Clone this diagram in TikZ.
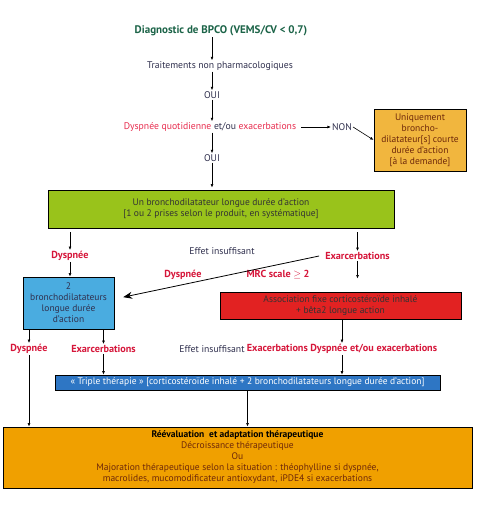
\documentclass[tikz,border=0pt]{standalone}
\usepackage{fontspec}
\setmainfont{PT Sans}
\usetikzlibrary{arrows.meta}

\definecolor{titlegreen}{RGB}{28,100,72}
\definecolor{pinkred}{RGB}{232,44,78}
\definecolor{lblred}{RGB}{214,22,58}
\definecolor{txtgrey}{RGB}{48,48,78}
\definecolor{orangebox}{RGB}{241,182,62}
\definecolor{orangetxt}{RGB}{110,40,10}
\definecolor{greenbox}{RGB}{153,195,27}
\definecolor{bluebox}{RGB}{74,172,224}
\definecolor{redbox}{RGB}{226,34,34}
\definecolor{triplebox}{RGB}{46,118,196}
\definecolor{bottombox}{RGB}{240,160,0}

\tikzset{
  lbl/.style={font=\fontsize{9.7}{11}\selectfont, text=txtgrey, inner sep=1pt},
  redlbl/.style={lbl, text=lblred, font=\fontsize{10.2}{11}\selectfont\bfseries},
  flowbox/.style={draw=black, line width=0.8pt, align=center, inner sep=0pt,
    font=\fontsize{9.5}{11}\selectfont},
  arr/.style={-{Latex[length=3.5pt,width=2.8pt]}, line width=0.6pt},
  bigarr/.style={-{Stealth[length=9pt,width=7pt]}, line width=0.8pt},
}

\begin{document}
\begin{tikzpicture}[x=1pt,y=-1pt]
	%%%%% START %%%%%
	\useasboundingbox[fill=white] (0,0) rectangle (477,509);

	% top of the chart
	\node[lbl, text=titlegreen, font=\fontsize{11}{12}\selectfont\bfseries] (diag) at (221,31) {Diagnostic de BPCO (VEMS/CV < 0,7)};
	\node[lbl] (trait) at (220,66) {Traitements non pharmacologiques};
	\node[lbl] (oui1) at (212,95) {OUI};
	\node[lbl] (dysq) at (210,127) {\textcolor{pinkred}{Dyspnée quotidienne} et/ou \textcolor{pinkred}{exacerbations}};
	\node[lbl] (non) at (342,127) {NON};
	\node[lbl] (oui2) at (212,158) {OUI};

	\node[flowbox, fill=orangebox, text=orangetxt, minimum width=92pt, minimum height=62pt] (uniq) at (420,140)
		{Uniquement\\broncho-\\dilatateur[s] courte\\durée d'action\\{[}à la demande]};

	% first line of treatment
	\node[flowbox, fill=greenbox, text=black!80, minimum width=346pt, minimum height=38pt] (bd1) at (221,209)
		{Un bronchodilatateur longue durée d'action\\{[}1 ou 2 prises selon le produit, en systématique]};

	\node[redlbl] (dys1) at (70,256) {Dyspnée};
	\node[lbl] (eff1) at (222,251.5) {Effet insuffisant};
	\node[redlbl] (exa1) at (357.5,256) {Exarcerbations};
	\node[redlbl] (dys2) at (183,275) {Dyspnée};
	\node[redlbl] (mrc) at (278,275) {MRC scale $\geq$ 2};

	\node[flowbox, fill=bluebox, text=txtgrey, minimum width=91pt, minimum height=52pt] (bd2) at (68.5,303)
		{2\\bronchodilatateurs\\longue durée\\d'action};
	\node[flowbox, fill=redbox, text=black!80, minimum width=241pt, minimum height=27pt] (assoc) at (340.5,305.5)
		{Association fixe corticostéroïde inhalé\\+ bêta2 longue action};

	% second line of treatment
	\node[redlbl] (dys3) at (29,349) {Dyspnée};
	\node[redlbl] (exa3) at (103.5,349) {Exarcerbations};
	\node[lbl] (eff2) at (212,349) {Effet insuffisant};
	\node[redlbl] (exa4) at (342,349) {Exacerbations Dyspnée et/ou exacerbations};

	\node[flowbox, fill=triplebox, text=white, line width=0.6pt, minimum width=385pt, minimum height=15pt] (triple) at (247.5,382.5)
		{« Triple thérapie » {[}corticostéroïde inhalé + 2 bronchodilatateurs longue durée d'action]};

	\node[flowbox, fill=bottombox, text=orangetxt, minimum width=469pt, minimum height=61pt] (reeval) at (237.5,457.5)
		{\textcolor{black}{\bfseries Réévaluation\ \ et adaptation thérapeutique}\\Décroissance thérapeutique\\Ou\\
		 Majoration thérapeutique selon la situation : théophylline si dyspnée,\\macrolides, mucomodificateur antioxydant, iPDE4 si exacerbations};

	% connectors
	\draw[arr] (diag.south -| oui1) -- (trait.north -| oui1);
	\draw[arr] (trait.south -| oui1) -- (oui1.north);
	\draw[arr] (oui1.south) -- (dysq.north -| oui1);
	\draw[arr] (dysq.east) ++(4,0) -- (non.west);
	\draw[arr] (non.east) -- (uniq.west);
	\draw[arr] (dysq.south -| oui2) -- (oui2.north);
	\draw[arr, shorten >=2pt] (oui2.south) -- (bd1.north -| oui2);

	\draw[arr, shorten <=4pt] (bd1.south -| dys1) -- (dys1.north);
	\draw[arr, shorten <=4pt] (bd1.south -| exa1) -- (exa1.north);
	\draw[arr] (dys1.south) -- (bd2.north -| dys1);
	\draw[bigarr, shorten >=9pt] (exa1.west) ++(-5,0) -- ([yshift=4pt]bd2.east);
	\draw[arr, shorten >=13pt] (exa1.south) -- (assoc.north -| exa1);

	\draw[arr] (bd2.south -| dys3) -- (dys3.north);
	\draw[arr] (bd2.south -| exa3) -- (exa3.north);
	\draw[arr] (assoc.south -| exa4) -- (exa4.north);
	\draw[arr] (exa3.south) -- (triple.north -| exa3);
	\draw[arr] (exa4.south) -- (triple.north -| exa4);
	\draw[arr] (triple.south) -- (reeval.north -| triple);
	\draw[arr] (dys3.south) -- (reeval.north -| dys3);
	%%%%% END %%%%%
\end{tikzpicture}
\end{document}
